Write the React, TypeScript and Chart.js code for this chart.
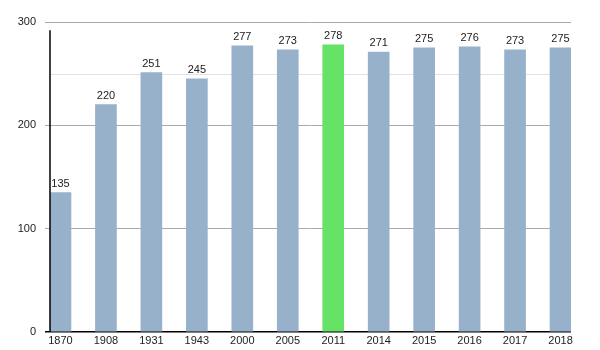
import React, { useEffect, useRef } from "react";
import { Chart, registerables } from "chart.js";

Chart.register(...registerables);

const years = ["1870", "1908", "1931", "1943", "2000", "2005", "2011", "2014", "2015", "2016", "2017", "2018"];
const population = [135, 220, 251, 245, 277, 273, 278, 271, 275, 276, 273, 275];
const highlightYear = "2011";
const yTicks = [0, 100, 200, 300];
const lightGridValues = [250];

const BLUE = "#97b1cb";
const GREEN = "#66e266";
const FONT = "'Liberation Sans', Arial, sans-serif";

export default function App() {
  const ref = useRef<HTMLCanvasElement | null>(null);
  useEffect(() => {
    if (!ref.current) return;
    const lightGrid = {
      id: "lightGrid",
      beforeDatasetsDraw(chart: any) {
        const { ctx, chartArea, scales } = chart;
        ctx.save();
        ctx.strokeStyle = "#e2e2e2";
        ctx.lineWidth = 1;
        lightGridValues.forEach((v) => {
          const y = Math.round(scales.y.getPixelForValue(v)) + 0.5;
          ctx.beginPath();
          ctx.moveTo(chartArea.left, y);
          ctx.lineTo(chartArea.right, y);
          ctx.stroke();
        });
        ctx.restore();
      },
      afterDatasetsDraw(chart: any) {
        const { ctx, chartArea, scales } = chart;
        ctx.save();
        // vertical axis line
        ctx.strokeStyle = "#000";
        ctx.lineWidth = 1.5;
        ctx.beginPath();
        ctx.moveTo(chartArea.left, scales.y.getPixelForValue(292));
        ctx.lineTo(chartArea.left, chartArea.bottom);
        ctx.stroke();
        // value labels
        ctx.fillStyle = "#222";
        ctx.font = `11px ${FONT}`;
        ctx.textAlign = "center";
        ctx.textBaseline = "middle";
        const meta = chart.getDatasetMeta(0);
        meta.data.forEach((bar: any, i: number) => {
          ctx.fillText(String(population[i]), bar.x, bar.y - 9);
        });
        ctx.restore();
      },
    };

    const chart = new Chart(ref.current, {
      type: "bar",
      data: {
        datasets: [
          {
            data: population.map((v, i) => ({ x: i, y: v })),
            backgroundColor: years.map((y) => (y === highlightYear ? GREEN : BLUE)),
            barThickness: 21,
            borderWidth: 0,
          },
        ],
      },
      options: {
        responsive: false,
        animation: false,
        layout: { padding: { top: 22, right: 29, left: 0, bottom: 0 } },
        plugins: { legend: { display: false }, tooltip: { enabled: false } },
        scales: {
          x: {
            type: "linear",
            offset: false,
            min: -0.2305,
            max: 11.2305,
            grid: { display: false, drawTicks: false, offset: false },
            border: { display: false },
            afterBuildTicks: (scale: any) => {
              scale.ticks = years.map((_, i) => ({ value: i }));
            },
            afterFit: (scale: any) => {
              scale.height = 18;
            },
            ticks: {
              autoSkip: false,
              maxRotation: 0,
              padding: 2,
              color: "#222",
              font: { family: FONT, size: 11 },
              callback: (v: any) => years[Math.round(Number(v))] ?? "",
            },
          },
          y: {
            min: 0,
            max: 300,
            afterBuildTicks: (scale: any) => {
              scale.ticks = yTicks.map((v) => ({ value: v }));
            },
            afterFit: (scale: any) => {
              scale.width = 50;
            },
            border: { display: false },
            grid: {
              color: (c: any) => (c.tick && c.tick.value === 0 ? "#000" : "#aaaaaa"),
              lineWidth: (c: any) => (c.tick && c.tick.value === 0 ? 1.5 : 1),
              tickLength: 5,
            },
            ticks: {
              padding: 9,
              color: "#222",
              font: { family: FONT, size: 11 },
            },
          },
        },
      },
      plugins: [lightGrid],
    });
    return () => chart.destroy();
  }, []);
  return (
    <canvas
      ref={ref}
      width={600}
      height={350}
      style={{ position: "fixed", left: 0, top: 0, width: 600, height: 350 }}
    />
  );
}
